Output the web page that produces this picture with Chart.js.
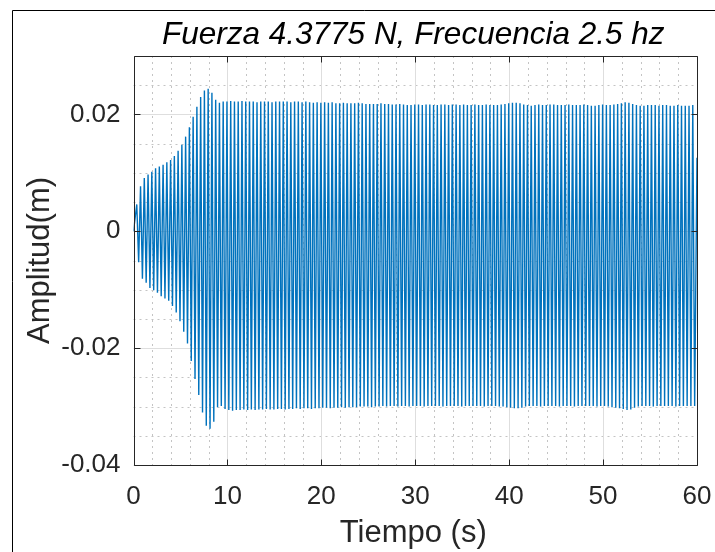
<!DOCTYPE html>
<html><head><meta charset="utf-8">
<script src="https://cdn.jsdelivr.net/npm/chart.js@4/dist/chart.umd.min.js"></script>
<style>html,body{margin:0;padding:0;background:#fff;overflow:hidden}canvas{display:block}</style>
</head><body>
<canvas id="c" width="715" height="552"></canvas>
<script>
const titleText = 'Fuerza 4.3775 N, Frecuencia 2.5 hz';
const xLabel = 'Tiempo (s)';
const yLabel = 'Amplitud(m)';
const xTickValues = [0, 10, 20, 30, 40, 50, 60];
const xTickLabels = ['0', '10', '20', '30', '40', '50', '60'];
const yTickValues = [-0.04, -0.02, 0, 0.02];
const yTickLabels = ['-0.04', '-0.02', '0', '0.02'];
const xMinorStep = 2;
const yMinorStep = 0.005;
const xRange = [0, 60];
const yRange = [-0.04, 0.03];

// driving frequency from the title; one peak and one trough per cycle
const frequencyHz = 2.5;
const firstPeakTime = 0.35;
const startPoint = [0, 0];
const endPoint = [60, 0.0126];

// positive peaks, one per cycle (m)
const peakValues = [
  0.0046,0.0077,0.0091,0.0097,0.0102,0.0108,0.0111,0.0114,0.0118,0.0122,
  0.0129,0.0138,0.0148,0.0162,0.0178,0.0196,0.0213,0.0230,0.0241,0.0244,
  0.0237,0.0225,0.0220,0.0222,0.0222,0.0223,0.0222,0.0222,0.0223,0.0222,
  0.0222,0.0222,0.0221,0.0222,0.0222,0.0222,0.0221,0.0222,0.0222,0.0222,
  0.0222,0.0221,0.0222,0.0222,0.0221,0.0222,0.0221,0.0220,0.0221,0.0220,
  0.0221,0.0220,0.0221,0.0219,0.0219,0.0220,0.0219,0.0219,0.0219,0.0220,
  0.0219,0.0218,0.0218,0.0218,0.0218,0.0219,0.0218,0.0218,0.0217,0.0217,
  0.0218,0.0217,0.0216,0.0216,0.0217,0.0217,0.0216,0.0217,0.0217,0.0216,
  0.0216,0.0217,0.0217,0.0216,0.0217,0.0217,0.0216,0.0217,0.0216,0.0216,
  0.0217,0.0216,0.0216,0.0217,0.0216,0.0216,0.0216,0.0217,0.0218,0.0219,
  0.0220,0.0220,0.0219,0.0217,0.0216,0.0215,0.0216,0.0217,0.0216,0.0216,
  0.0217,0.0217,0.0216,0.0216,0.0216,0.0217,0.0216,0.0216,0.0216,0.0217,
  0.0216,0.0215,0.0215,0.0216,0.0217,0.0216,0.0216,0.0217,0.0218,0.0219,
  0.0221,0.0220,0.0218,0.0216,0.0215,0.0215,0.0216,0.0216,0.0216,0.0215,
  0.0216,0.0216,0.0215,0.0215,0.0216,0.0215,0.0215,0.0215,0.0216
];

// negative troughs, one per cycle (m)
const troughValues = [
  -0.0053,-0.0081,-0.0088,-0.0097,-0.0101,-0.0105,-0.0111,-0.0115,-0.0119,-0.0128,
  -0.0139,-0.0154,-0.0172,-0.0192,-0.0222,-0.0253,-0.0280,-0.0310,-0.0333,-0.0338,
  -0.0326,-0.0301,-0.0299,-0.0304,-0.0306,-0.0307,-0.0306,-0.0306,-0.0305,-0.0306,
  -0.0305,-0.0306,-0.0305,-0.0305,-0.0304,-0.0305,-0.0305,-0.0304,-0.0304,-0.0305,
  -0.0304,-0.0304,-0.0303,-0.0304,-0.0303,-0.0303,-0.0304,-0.0303,-0.0303,-0.0302,
  -0.0302,-0.0303,-0.0302,-0.0302,-0.0301,-0.0302,-0.0301,-0.0301,-0.0301,-0.0300,
  -0.0300,-0.0300,-0.0301,-0.0300,-0.0300,-0.0299,-0.0300,-0.0299,-0.0299,-0.0300,
  -0.0299,-0.0299,-0.0300,-0.0299,-0.0299,-0.0299,-0.0300,-0.0299,-0.0299,-0.0299,
  -0.0299,-0.0300,-0.0299,-0.0299,-0.0299,-0.0299,-0.0300,-0.0299,-0.0299,-0.0299,
  -0.0299,-0.0299,-0.0300,-0.0299,-0.0299,-0.0299,-0.0300,-0.0300,-0.0301,-0.0302,
  -0.0303,-0.0303,-0.0302,-0.0300,-0.0299,-0.0299,-0.0299,-0.0300,-0.0299,-0.0299,
  -0.0299,-0.0299,-0.0300,-0.0299,-0.0299,-0.0299,-0.0300,-0.0299,-0.0299,-0.0299,
  -0.0299,-0.0299,-0.0300,-0.0299,-0.0299,-0.0300,-0.0301,-0.0302,-0.0303,-0.0304,
  -0.0306,-0.0305,-0.0302,-0.0300,-0.0299,-0.0299,-0.0299,-0.0300,-0.0299,-0.0299,
  -0.0299,-0.0299,-0.0299,-0.0300,-0.0299,-0.0299,-0.0299,-0.0299,-0.0299
];

const period = 1 / frequencyHz;
const points = [{ x: startPoint[0], y: startPoint[1] }];
for (let k = 0; k < peakValues.length; k++) {
  const tp = firstPeakTime + k * period;
  points.push({ x: tp, y: peakValues[k] });
  if (k < troughValues.length) points.push({ x: tp + period / 2, y: troughValues[k] });
}
points.push({ x: endPoint[0], y: endPoint[1] });

const FONT = '"Liberation Sans", Arial, Helvetica, sans-serif';
const AXIS_COLOR = '#262626';

const matlabPlugin = {
  id: 'matlabLook',
  beforeDraw(chart) {
    const ctx = chart.ctx;
    ctx.save();
    ctx.fillStyle = '#ffffff';
    ctx.fillRect(0, 0, chart.width, chart.height);
    ctx.strokeStyle = '#000000';
    ctx.lineWidth = 1;
    ctx.beginPath();
    ctx.moveTo(12.5, chart.height + 5);
    ctx.lineTo(12.5, 10.5);
    ctx.lineTo(chart.width + 5, 10.5);
    ctx.stroke();
    ctx.restore();
  },
  beforeDatasetsDraw(chart) {
    const { ctx, chartArea: a, scales: { x, y } } = chart;
    ctx.save();
    ctx.lineWidth = 1;
    // minor grid
    ctx.strokeStyle = '#c4c4c4';
    ctx.setLineDash([2, 4]);
    ctx.beginPath();
    for (let v = xRange[0] + xMinorStep; v < xRange[1]; v += xMinorStep) {
      if (Math.abs(v % 10) < 1e-9) continue;
      const px = Math.round(x.getPixelForValue(v)) + 0.5;
      ctx.moveTo(px, a.top); ctx.lineTo(px, a.bottom);
    }
    for (let i = 1; ; i++) {
      const v = yRange[0] + i * yMinorStep;
      if (v >= yRange[1] - 1e-9) break;
      if (yTickValues.some(t => Math.abs(t - v) < 1e-9)) continue;
      const py = Math.round(y.getPixelForValue(v)) + 0.5;
      ctx.moveTo(a.left, py); ctx.lineTo(a.right, py);
    }
    ctx.stroke();
    // major grid
    ctx.setLineDash([]);
    ctx.strokeStyle = '#dedede';
    ctx.beginPath();
    xTickValues.forEach(v => {
      const px = Math.round(x.getPixelForValue(v)) + 0.5;
      ctx.moveTo(px, a.top); ctx.lineTo(px, a.bottom);
    });
    yTickValues.forEach(v => {
      const py = Math.round(y.getPixelForValue(v)) + 0.5;
      ctx.moveTo(a.left, py); ctx.lineTo(a.right, py);
    });
    ctx.stroke();
    ctx.restore();
  },
  afterDatasetsDraw(chart) {
    const { ctx, chartArea: a, scales: { x, y } } = chart;
    ctx.save();
    ctx.strokeStyle = AXIS_COLOR;
    ctx.lineWidth = 1;
    const L = Math.round(a.left) + 0.5, R = Math.round(a.right) + 0.5;
    const T = Math.round(a.top) + 0.5, B = Math.round(a.bottom) + 0.5;
    ctx.beginPath();
    ctx.rect(L, T, R - L, B - T);
    const tl = 6;
    xTickValues.forEach(v => {
      const px = Math.round(x.getPixelForValue(v)) + 0.5;
      ctx.moveTo(px, B); ctx.lineTo(px, B - tl);
      ctx.moveTo(px, T); ctx.lineTo(px, T + tl);
    });
    yTickValues.forEach(v => {
      const py = Math.round(y.getPixelForValue(v)) + 0.5;
      ctx.moveTo(L, py); ctx.lineTo(L + tl, py);
      ctx.moveTo(R, py); ctx.lineTo(R - tl, py);
    });
    ctx.stroke();
    ctx.restore();
  },
  afterDraw(chart) {
    const { ctx, chartArea: a } = chart;
    ctx.save();
    ctx.fillStyle = '#000000';
    ctx.textAlign = 'center';
    ctx.textBaseline = 'middle';
    ctx.font = 'italic 31.5px ' + FONT;
    ctx.fillText(titleText, (a.left + a.right) / 2 - 2, 35);
    ctx.fillStyle = AXIS_COLOR;
    ctx.font = '31px ' + FONT;
    ctx.fillText(xLabel, (a.left + a.right) / 2 - 2, 533);
    ctx.translate(40, (a.top + a.bottom) / 2);
    ctx.rotate(-Math.PI / 2);
    ctx.fillText(yLabel, 0, 0);
    ctx.restore();
  }
};

new Chart(document.getElementById('c'), {
  type: 'line',
  data: {
    datasets: [{
      data: points,
      borderColor: '#0072BD',
      borderWidth: 1.4,
      pointRadius: 0,
      tension: 0,
      fill: false
    }]
  },
  options: {
    responsive: false,
    devicePixelRatio: 1,
    animation: false,
    parsing: false,
    normalized: true,
    layout: { padding: { top: 56, right: 18, bottom: 0, left: 0 } },
    plugins: { legend: { display: false }, title: { display: false }, tooltip: { enabled: false } },
    scales: {
      x: {
        type: 'linear',
        min: xRange[0], max: xRange[1],
        afterFit(s) { s.height = 87; s.paddingLeft = 0; s.paddingRight = 0; },
        afterBuildTicks(s) { s.ticks = xTickValues.map(v => ({ value: v })); },
        grid: { display: false, drawTicks: false },
        border: { display: false },
        ticks: {
          padding: 16,
          maxRotation: 0,
          autoSkip: false,
          color: AXIS_COLOR,
          font: { family: FONT, size: 26 },
          callback: (v) => xTickLabels[xTickValues.indexOf(v)]
        }
      },
      y: {
        type: 'linear',
        min: yRange[0], max: yRange[1],
        afterFit(s) { s.width = 133.5; s.paddingTop = 0; s.paddingBottom = 0; },
        afterBuildTicks(s) { s.ticks = yTickValues.map(v => ({ value: v })); },
        grid: { display: false, drawTicks: false },
        border: { display: false },
        ticks: {
          padding: 13,
          autoSkip: false,
          color: AXIS_COLOR,
          font: { family: FONT, size: 26 },
          callback: (v) => yTickLabels[yTickValues.indexOf(v)]
        }
      }
    }
  },
  plugins: [matlabPlugin]
});
</script>
</body></html>
